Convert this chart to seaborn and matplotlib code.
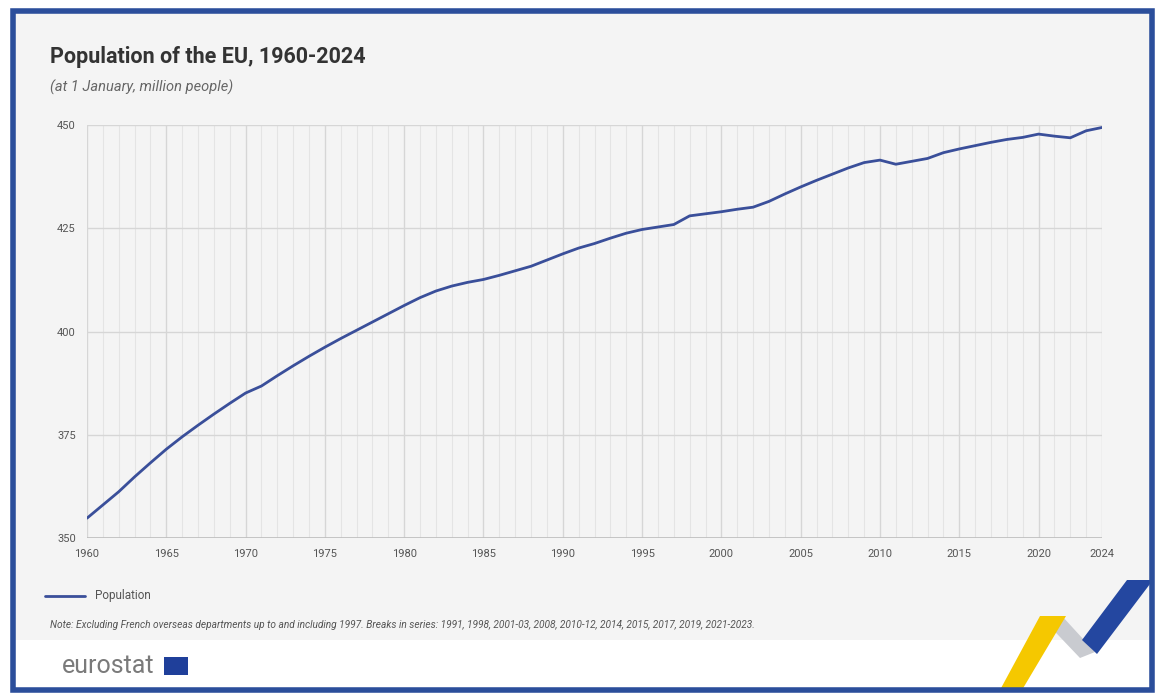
import numpy as np
import pandas as pd
import matplotlib.pyplot as plt
import seaborn as sns
from matplotlib.patches import Rectangle, Polygon
from matplotlib.ticker import MultipleLocator

# ======================
# Data (million people, 1 January)
# ======================

years = list(range(1960, 2025))
population = [
    354.8, 358.0, 361.2, 364.8, 368.2, 371.5, 374.5, 377.3, 380.0, 382.6,
    385.1, 386.8, 389.3, 391.7, 394.0, 396.2, 398.3, 400.3, 402.3, 404.3,
    406.3, 408.2, 409.8, 411.0, 411.9, 412.6, 413.6, 414.7, 415.8, 417.3,
    418.8, 420.2, 421.3, 422.6, 423.8, 424.7, 425.3, 425.9, 428.0, 428.5,
    429.0, 429.6, 430.1, 431.5, 433.3, 435.0, 436.6, 438.1, 439.6, 440.9,
    441.5, 440.5, 441.2, 441.9, 443.3, 444.2, 445.0, 445.8, 446.5, 447.0,
    447.8, 447.3, 446.9, 448.6, 449.4,
]
y_ticks = [350, 375, 400, 425, 450]
x_ticks = [1960, 1965, 1970, 1975, 1980, 1985, 1990, 1995, 2000, 2005,
           2010, 2015, 2020, 2024]

df = pd.DataFrame({"year": years, "population": population})

# ======================
# Style
# ======================

sns.set_style("white")
plt.rcParams["font.family"] = ["Roboto", "DejaVu Sans"]

W, H = 1156, 697
fig = plt.figure(figsize=(W / 100, H / 100), dpi=100)
fig.patch.set_facecolor("white")


def px(x, y):
    return (x / W, 1 - y / H)


# background panel + frame
fig.patches.append(Rectangle(px(14, 640), (1152 - 14) / W, (640 - 12) / H,
                             transform=fig.transFigure, facecolor="#f4f4f4",
                             edgecolor="none", zorder=-1))
fig.patches.append(Rectangle(px(13, 690), (1152 - 13) / W, (690 - 11) / H,
                             transform=fig.transFigure, facecolor="none",
                             edgecolor="#2b4e9b", linewidth=4, zorder=5))

# ======================
# Line chart
# ======================

ax = fig.add_axes([87 / W, 1 - 538 / H, (1102 - 87) / W, (538 - 125) / H])
ax.set_zorder(1)
ax.set_facecolor("#f4f4f4")
sns.lineplot(data=df, x="year", y="population", ax=ax, color="#3a4f9a",
             linewidth=2.0, label="Population", legend=False)

ax.set_xlim(1960, 2024)
ax.set_ylim(350, 450)
ax.set_xticks(x_ticks)
ax.set_yticks(y_ticks)
ax.xaxis.set_minor_locator(MultipleLocator(1))
ax.grid(which="major", axis="both", color="#d6d6d6", linewidth=1.0)
ax.grid(which="minor", axis="x", color="#e4e4e4", linewidth=0.8)
ax.set_axisbelow(True)
for s in ax.spines.values():
    s.set_visible(False)
ax.axhline(350, color="#bdbdbd", linewidth=1.2, zorder=1)
ax.tick_params(axis="both", which="both", length=0, labelsize=8,
               labelcolor="#555555", pad=8)
ax.set_xlabel("")
ax.set_ylabel("")

# ======================
# Texts
# ======================

fig.text(*px(50, 57), "Population of the EU, 1960-2024", fontsize=15.5,
         fontweight="bold", color="#333333", va="center")
fig.text(*px(50, 87), "(at 1 January, million people)", fontsize=10.5,
         style="italic", color="#666666", va="center")

fig.lines.append(plt.Line2D([45 / W, 85 / W], [1 - 596 / H] * 2,
                            transform=fig.transFigure, color="#3a4f9a",
                            linewidth=2.0))
fig.text(*px(95, 596), "Population", fontsize=8.5, color="#555555",
         va="center")
fig.text(*px(50, 625),
         "Note: Excluding French overseas departments up to and including 1997. "
         "Breaks in series: 1991, 1998, 2001-03, 2008, 2010-12, 2014, 2015, "
         "2017, 2019, 2021-2023.",
         fontsize=7.3, style="italic", color="#555555", va="center")

# eurostat logo
fig.text(*px(62, 666), "eurostat", fontsize=18, color="#7a7a7a",
         va="center")
fig.patches.append(Rectangle(px(164, 675), 24 / W, 18 / H,
                             transform=fig.transFigure, facecolor="#1f3f9a",
                             edgecolor="none", zorder=3))

# corner decoration
fig.patches.append(Polygon([px(1000, 690), px(1040, 616), px(1066, 616),
                            px(1022, 690)], closed=True,
                           transform=fig.transFigure, facecolor="#f5c800",
                           edgecolor="none", zorder=3))
fig.patches.append(Polygon([px(1062, 616), px(1040, 616), px(1080, 658),
                            px(1095, 652)], closed=True,
                           transform=fig.transFigure, facecolor="#c9cbd0",
                           edgecolor="none", zorder=2))
fig.patches.append(Polygon([px(1082, 640), px(1127, 580), px(1153, 580),
                            px(1097, 654)], closed=True,
                           transform=fig.transFigure, facecolor="#2447a0",
                           edgecolor="none", zorder=3))

fig.savefig("out.png", dpi=100, facecolor=fig.get_facecolor())
